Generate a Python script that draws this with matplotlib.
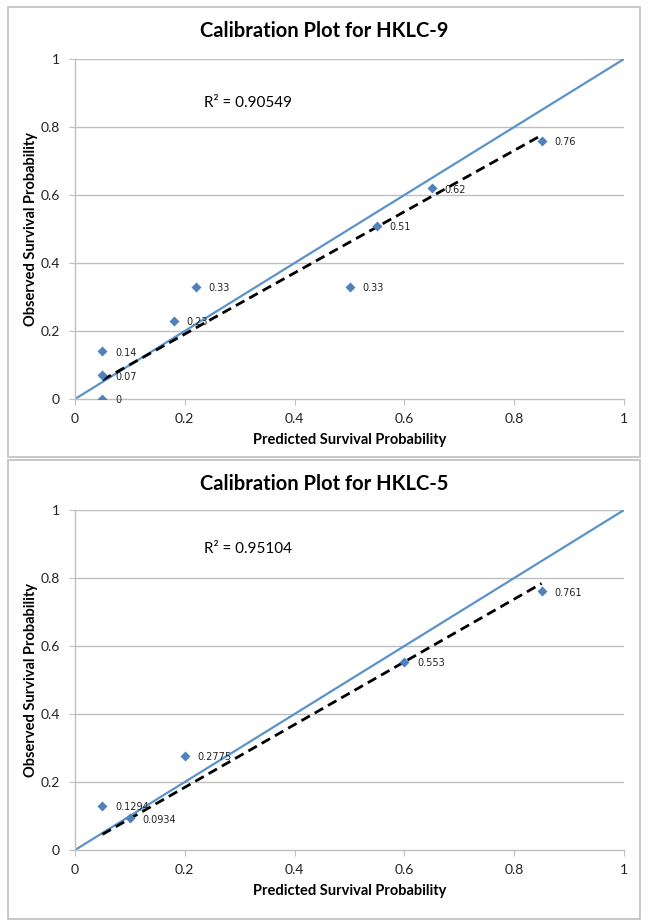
import matplotlib
matplotlib.use("Agg")
import matplotlib.pyplot as plt
from matplotlib.patches import Rectangle

plt.rcParams["font.family"] = ["Lato", "DejaVu Sans"]

# HKLC-9 calibration data
hklc9_pred = [0.05, 0.05, 0.05, 0.18, 0.22, 0.50, 0.55, 0.65, 0.85]
hklc9_obs = [0.0, 0.07, 0.14, 0.23, 0.33, 0.33, 0.51, 0.62, 0.76]
hklc9_labels = ["0", "0.07", "0.14", "0.23", "0.33", "0.33", "0.51", "0.62", "0.76"]
hklc9_trend_x = [0.05, 0.85]
hklc9_trend_y = [0.056, 0.776]
hklc9_r2 = "R² = 0.90549"

# HKLC-5 calibration data
hklc5_pred = [0.05, 0.10, 0.20, 0.60, 0.85]
hklc5_obs = [0.1294, 0.0934, 0.2775, 0.553, 0.761]
hklc5_labels = ["0.1294", "0.0934", "0.2775", "0.553", "0.761"]
hklc5_trend_x = [0.05, 0.85]
hklc5_trend_y = [0.046, 0.784]
hklc5_r2 = "R² = 0.95104"

ticks = [0, 0.2, 0.4, 0.6, 0.8, 1]
tick_labels = ["0", "0.2", "0.4", "0.6", "0.8", "1"]

point_colour = "#4F81BD"
ideal_colour = "#5A93CC"
grid_colour = "#BFBFBF"

fig = plt.figure(figsize=(6.49, 9.21), dpi=100)

# panel frames like the spreadsheet chart boxes
fig.add_artist(Rectangle((8 / 649, 1 - 457 / 921), 632 / 649, 450 / 921,
                         transform=fig.transFigure, fill=False,
                         edgecolor="#BFBFBF", linewidth=1.2))
fig.add_artist(Rectangle((8 / 649, 1 - 919 / 921), 632 / 649, 459 / 921,
                         transform=fig.transFigure, fill=False,
                         edgecolor="#BFBFBF", linewidth=1.2))


def calibration_panel(rect, title, title_y, pred, obs, labels, tx, ty, r2, r2_y):
    ax = fig.add_axes(rect)
    ax.set_xlim(0, 1)
    ax.set_ylim(0, 1)

    # horizontal gridlines only
    for t in ticks[1:]:
        ax.axhline(t, color=grid_colour, linewidth=1.0, zorder=0)

    # ideal calibration line
    ax.plot([0, 1], [0, 1], color=ideal_colour, linewidth=1.6, zorder=2)
    # fitted trend line
    ax.plot(tx, ty, color="black", linewidth=2.0, linestyle=(0, (3.5, 2)), zorder=3)
    ax.scatter(pred, obs, marker="D", s=26, color=point_colour, zorder=4,
               linewidths=0)
    for x, y, lab in zip(pred, obs, labels):
        ax.annotate(lab, (x, y), xytext=(9, -1), textcoords="offset points",
                    fontsize=7, va="center", ha="left", color="#222222",
                    family=["DejaVu Sans"])

    ax.text(0.235, r2_y, r2, fontsize=11, va="center", ha="left")

    ax.set_xticks(ticks)
    ax.set_xticklabels(tick_labels)
    ax.set_yticks(ticks)
    ax.set_yticklabels(tick_labels)
    ax.tick_params(axis="both", labelsize=10, color=grid_colour, length=4,
                   labelcolor="#222222")
    ax.tick_params(axis="x", pad=6)
    ax.tick_params(axis="y", pad=7)
    for side in ["top", "right"]:
        ax.spines[side].set_visible(False)
    for side in ["left", "bottom"]:
        ax.spines[side].set_color(grid_colour)
        ax.spines[side].set_linewidth(1.0)

    ax.set_xlabel("Predicted Survival Probability", fontsize=10.5,
                  fontweight="bold", labelpad=6)
    ax.set_ylabel("Observed Survival Probability", fontsize=10.5,
                  fontweight="bold", labelpad=2)
    fig.text(0.5, title_y, title, fontsize=14.5, fontweight="bold",
             ha="center", va="center")
    return ax


calibration_panel([75 / 649, 1 - 399 / 921, 549 / 649, 340 / 921],
                  "Calibration Plot for HKLC-9", 1 - 31 / 921,
                  hklc9_pred, hklc9_obs, hklc9_labels,
                  hklc9_trend_x, hklc9_trend_y, hklc9_r2, 0.87)
calibration_panel([75 / 649, 1 - 850 / 921, 549 / 649, 340 / 921],
                  "Calibration Plot for HKLC-5", 1 - 484 / 921,
                  hklc5_pred, hklc5_obs, hklc5_labels,
                  hklc5_trend_x, hklc5_trend_y, hklc5_r2, 0.885)

fig.savefig("out.png", dpi=100)
